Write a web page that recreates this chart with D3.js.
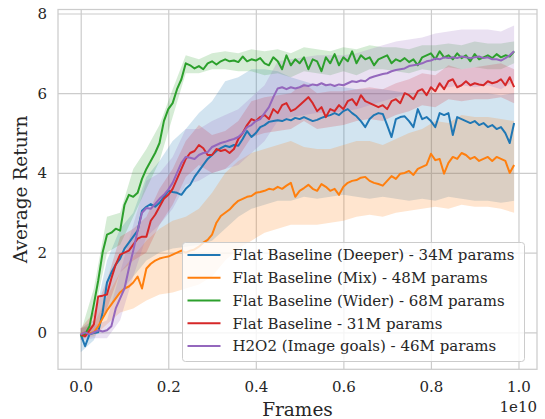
<!DOCTYPE html>
<html>
<head>
<meta charset="utf-8">
<script src="https://cdn.jsdelivr.net/npm/d3@7/dist/d3.min.js"></script>
<style>
    body { margin: 0; background: #fff; }
    text { font-family: "DejaVu Serif", serif; fill: #262626; }
</style>
</head>
<body>
<svg id="chart" width="545" height="419"></svg>
<script>
// Sampling grids (in units of 1e10 frames)
const LINE_STEP = 0.01;  // mean curves
const BAND_STEP = 0.03;  // shaded spread

// Series names / colours (legend order)
const seriesNames = [
    'Flat Baseline (Deeper) - 34M params',
    'Flat Baseline (Mix) - 48M params',
    'Flat Baseline (Wider) - 68M params',
    'Flat Baseline - 31M params',
    'H2O2 (Image goals) - 46M params'
];
const seriesColors = ['#1f77b4', '#ff7f0e', '#2ca02c', '#d62728', '#9467bd'];

// Mean return curves
const deeperMean = [-0.05, -0.35, -0.05, -0.02, 0.0, 0.5, 1.25, 1.5, 1.7, 1.85,
    2.1, 2.25, 2.4, 2.55, 3.05, 3.15, 3.22, 3.15, 3.25, 3.4,
    3.55, 3.52, 3.5, 3.45, 3.6, 3.7, 3.9, 4.05, 4.2, 4.35,
    4.45, 4.55, 4.62, 4.68, 4.65, 4.7, 4.68, 4.85, 5.05, 4.9,
    5.0, 5.15, 5.2, 5.28, 5.3, 5.32, 5.3, 5.35, 5.32, 5.38,
    5.35, 5.4, 5.35, 5.3, 5.33, 5.38, 5.42, 5.45, 5.5, 5.45,
    5.55, 5.6, 5.5, 5.42, 5.3, 5.15, 5.35, 5.45, 5.5, 5.48,
    5.2, 4.9, 5.35, 5.4, 5.42, 5.3, 5.15, 5.6, 5.35, 5.4,
    5.3, 5.15, 5.5, 5.45, 5.5, 4.95, 5.4, 5.35, 5.3, 5.25,
    5.3, 5.2, 5.25, 5.15, 5.2, 5.1, 5.15, 5.0, 4.75, 5.25];

const mixMean = [-0.05, 0.0, -0.02, 0.0, 0.15, 0.35, 0.55, 0.7, 0.85, 1.0,
    1.1, 1.15, 1.25, 1.4, 1.1, 1.6, 1.72, 1.8, 1.85, 1.88,
    1.9, 1.95, 2.0, 2.05, 2.0, 2.05, 2.08, 2.15, 2.25, 2.32,
    2.45, 2.75, 2.92, 3.0, 3.08, 3.2, 3.3, 3.35, 3.4, 3.42,
    3.5, 3.52, 3.55, 3.6, 3.58, 3.65, 3.6, 3.68, 3.75, 3.4,
    3.55, 3.62, 3.7, 3.6, 3.55, 3.72, 3.65, 3.55, 3.6, 3.45,
    3.65, 3.75, 3.8, 3.82, 3.88, 3.9, 3.8, 3.75, 3.72, 3.68,
    3.8, 3.92, 3.85, 3.98, 4.0, 4.05, 3.95, 4.1, 4.15, 4.2,
    4.48, 4.32, 4.35, 3.98, 4.25, 4.4, 4.35, 4.5, 4.45, 4.35,
    4.4, 4.3, 4.35, 4.4, 4.3, 4.4, 4.35, 4.3, 4.0, 4.2];

const widerMean = [-0.1, -0.05, 0.15, 0.7, 1.3, 2.0, 2.45, 2.5, 2.6, 2.55,
    3.2, 3.45, 3.4, 3.5, 3.85, 4.1, 4.3, 4.5, 4.75, 5.3,
    5.6, 5.75, 6.1, 6.35, 6.75, 6.7, 6.62, 6.68, 6.6, 6.75,
    6.8, 6.72, 6.8, 6.85, 6.8, 6.82, 6.78, 6.92, 6.8, 6.85,
    6.82, 6.88, 6.75, 6.7, 6.9, 6.8, 6.6, 6.95, 6.7, 6.85,
    6.75, 6.9, 6.6, 6.85, 6.8, 6.55, 6.9, 6.75, 6.98, 6.7,
    6.9, 6.8, 7.05, 6.75, 6.95, 6.85, 6.9, 6.7, 6.85, 6.9,
    6.95, 6.75, 6.85, 6.8, 6.88, 6.78, 6.85, 6.7, 6.9, 6.95,
    7.0, 6.85, 7.05, 6.9, 6.95, 6.85, 7.0, 6.88, 6.95, 6.8,
    6.98, 6.85, 6.9, 6.95, 6.88, 6.98, 6.9, 6.95, 6.92, 7.05];

const flatMean = [-0.05, -0.1, 0.05, 0.2, 0.9, 0.92, 0.95, 1.35, 1.7, 1.95,
    2.0, 2.05, 2.2, 2.35, 2.4, 2.4, 2.8, 2.95, 3.15, 3.35,
    3.45, 3.6, 3.85, 4.1, 4.35, 4.5, 4.55, 4.7, 4.62, 4.45,
    4.45, 4.6, 4.55, 4.58, 4.5, 4.6, 4.85, 5.0, 5.2, 5.35,
    5.3, 5.4, 5.45, 5.35, 5.6, 5.5, 5.7, 5.75, 5.55, 5.6,
    5.7, 5.8, 5.9, 5.75, 5.55, 5.65, 5.4, 5.6, 5.55, 5.7,
    5.6, 5.8, 5.85, 5.7, 5.95, 5.8, 5.75, 5.7, 5.65, 5.7,
    5.6, 5.8, 5.85, 5.75, 6.0, 5.95, 5.85, 6.05, 6.1, 5.95,
    6.15, 6.05, 6.25, 6.1, 6.3, 6.35, 6.15, 6.2, 6.3, 6.2,
    6.25, 6.22, 6.2, 6.3, 6.25, 6.28, 6.35, 6.2, 6.4, 6.15];

const h2o2Mean = [-0.05, 0.0, -0.05, 0.0, 0.05, 0.02, 0.05, 0.15, 0.6, 0.85,
    1.1, 1.6, 2.05, 2.55, 3.0, 3.12, 3.1, 3.22, 3.35, 3.45,
    3.58, 3.75, 4.0, 4.25, 4.4, 4.38, 4.35, 4.45, 4.5, 4.52,
    4.65, 4.7, 4.75, 4.78, 4.82, 4.85, 4.9, 5.0, 5.15, 5.2,
    5.3, 5.35, 5.5, 5.65, 5.9, 6.12, 6.15, 6.1, 6.15, 6.12,
    6.15, 6.2, 6.18, 6.22, 6.2, 6.25, 6.2, 6.22, 6.18, 6.22,
    6.2, 6.25, 6.3, 6.28, 6.32, 6.3, 6.38, 6.42, 6.45, 6.48,
    6.5, 6.55, 6.58, 6.6, 6.62, 6.68, 6.7, 6.72, 6.75, 6.8,
    6.82, 6.87, 6.85, 6.9, 6.88, 6.9, 6.88, 6.92, 6.9, 6.88,
    6.9, 6.92, 6.88, 6.9, 6.85, 6.85, 6.82, 6.88, 6.95, 7.05];

// Spread (lower / upper edge of shaded band), every BAND_STEP
const deeperLo = [-0.5, -0.2, 0.6, 1.0, 1.4, 1.8, 2.0, 2.1, 2.15, 2.2, 2.3, 2.6, 2.9, 3.1, 3.2, 3.3, 3.3,
    3.4, 3.35, 3.4, 3.45, 3.4, 3.35, 3.4, 3.35, 3.3, 3.35, 3.3, 3.4, 3.35, 3.3, 3.3, 3.25, 3.3];
const deeperHi = [0.1, 0.3, 1.8, 2.6, 3.0, 3.9, 4.3, 4.8, 5.1, 5.5, 5.8, 6.3, 6.4, 6.6, 6.6, 6.55, 6.4,
    6.3, 6.2, 6.2, 6.15, 6.1, 6.1, 6.1, 6.05, 6.0, 6.05, 6.0, 6.0, 6.0, 6.0, 6.0, 5.95, 6.0];

const mixLo = [-0.15, -0.1, 0.2, 0.5, 0.6, 0.8, 0.95, 1.0, 1.1, 1.2, 1.4, 1.8, 2.1, 2.3, 2.5, 2.6, 2.7,
    2.7, 2.7, 2.75, 2.8, 2.9, 2.95, 2.9, 3.0, 3.05, 3.1, 3.15, 3.1, 3.2, 3.15, 3.15, 3.1, 3.0];
const mixHi = [0.1, 0.2, 0.9, 1.5, 1.9, 2.3, 2.6, 2.8, 2.9, 3.1, 3.5, 4.0, 4.3, 4.5, 4.6, 4.7, 4.8,
    4.65, 4.6, 4.6, 4.7, 4.8, 4.8, 4.7, 4.85, 5.0, 5.1, 5.3, 5.25, 5.45, 5.4, 5.4, 5.35, 5.3];

const widerLo = [-0.2, 0.4, 2.0, 2.2, 2.9, 3.6, 4.3, 5.4, 6.5, 6.5, 6.6, 6.6, 6.55, 6.55, 6.45, 6.5, 6.4,
    6.55, 6.5, 6.45, 6.55, 6.45, 6.6, 6.6, 6.55, 6.5, 6.6, 6.55, 6.65, 6.6, 6.65, 6.6, 6.6, 6.75];
const widerHi = [0.0, 1.1, 2.9, 3.0, 4.1, 4.6, 5.2, 6.1, 6.95, 6.85, 7.0, 7.05, 7.0, 7.1, 7.05, 7.1, 7.0,
    7.15, 7.1, 7.05, 7.15, 7.1, 7.2, 7.15, 7.15, 7.1, 7.2, 7.2, 7.25, 7.2, 7.3, 7.25, 7.25, 7.3];

const flatLo = [-0.2, 0.0, 0.6, 1.5, 1.8, 2.0, 2.7, 3.2, 3.9, 4.2, 4.0, 4.1, 4.4, 4.9, 5.0, 5.05, 5.1,
    5.3, 5.1, 5.15, 5.2, 5.3, 5.35, 5.3, 5.45, 5.55, 5.7, 5.65, 5.85, 5.8, 5.85, 5.85, 5.9, 5.75];
const flatHi = [0.1, 0.5, 1.3, 2.4, 2.6, 2.9, 3.6, 4.1, 4.8, 5.2, 4.95, 5.05, 5.3, 5.8, 5.9, 5.95, 6.0,
    6.25, 6.0, 6.05, 6.05, 6.1, 6.15, 6.1, 6.25, 6.35, 6.5, 6.45, 6.7, 6.6, 6.65, 6.7, 6.75, 6.6];

const h2o2Lo = [-0.2, -0.15, -0.15, 0.3, 1.4, 2.4, 2.7, 3.1, 3.7, 3.8, 4.0, 4.1, 4.2, 4.5, 4.8, 5.3, 5.4,
    5.45, 5.5, 5.5, 5.55, 5.6, 5.7, 5.8, 5.9, 6.0, 6.05, 6.15, 6.15, 6.2, 6.15, 6.2, 6.1, 6.3];
const h2o2Hi = [0.1, 0.15, 0.3, 1.5, 2.7, 3.8, 4.0, 4.4, 5.1, 5.1, 5.3, 5.45, 5.6, 5.9, 6.2, 6.8, 6.85,
    6.9, 6.95, 6.95, 6.95, 7.0, 7.1, 7.2, 7.3, 7.35, 7.4, 7.5, 7.55, 7.6, 7.6, 7.6, 7.55, 7.7];

// Axis ticks
const xTicks = [0.0, 0.2, 0.4, 0.6, 0.8, 1.0];
const yTicks = [0, 2, 4, 6, 8];

const means = [deeperMean, mixMean, widerMean, flatMean, h2o2Mean];
const lows = [deeperLo, mixLo, widerLo, flatLo, h2o2Lo];
const highs = [deeperHi, mixHi, widerHi, flatHi, h2o2Hi];

const svg = d3.select('#chart');
const plot = { left: 58, right: 537, top: 9.5, bottom: 369.3 };

const xScale = d3.scaleLinear()
    .domain([-0.0519, 1.0423])
    .range([plot.left, plot.right]);

const yScale = d3.scaleLinear()
    .domain([-0.928, 8.1])
    .range([plot.bottom, plot.top]);

// Grid
svg.append('g')
    .attr('transform', `translate(0,${plot.bottom})`)
    .call(d3.axisBottom(xScale).tickValues(xTicks).tickSize(-(plot.bottom - plot.top)).tickFormat(''))
    .call(g => g.select('.domain').remove())
    .call(g => g.selectAll('line').attr('stroke', '#cccccc').attr('stroke-width', 1.2));

svg.append('g')
    .attr('transform', `translate(${plot.left},0)`)
    .call(d3.axisLeft(yScale).tickValues(yTicks).tickSize(-(plot.right - plot.left)).tickFormat(''))
    .call(g => g.select('.domain').remove())
    .call(g => g.selectAll('line').attr('stroke', '#cccccc').attr('stroke-width', 1.2));

// Bands + lines
const area = d3.area()
    .x((d, i) => xScale(i * BAND_STEP))
    .y0(d => yScale(d[0]))
    .y1(d => yScale(d[1]));

const line = d3.line()
    .x((d, i) => xScale(i * LINE_STEP))
    .y(d => yScale(d));

means.forEach((m, k) => {
    svg.append('path')
        .datum(lows[k].map((lo, i) => [lo, highs[k][i]]))
        .attr('fill', seriesColors[k])
        .attr('fill-opacity', 0.2)
        .attr('d', area);
});

means.forEach((m, k) => {
    svg.append('path')
        .datum(m)
        .attr('fill', 'none')
        .attr('stroke', seriesColors[k])
        .attr('stroke-width', 2)
        .attr('stroke-linejoin', 'round')
        .attr('d', line);
});

// Frame
svg.append('rect')
    .attr('x', plot.left).attr('y', plot.top)
    .attr('width', plot.right - plot.left).attr('height', plot.bottom - plot.top)
    .attr('fill', 'none').attr('stroke', '#cccccc').attr('stroke-width', 1.25);

// Tick labels
svg.append('g')
    .attr('transform', `translate(0,${plot.bottom})`)
    .call(d3.axisBottom(xScale).tickValues(xTicks).tickSize(0).tickPadding(12).tickFormat(d3.format('.1f')))
    .call(g => g.select('.domain').remove())
    .call(g => g.selectAll('text').attr('font-size', 15).attr('font-family', 'DejaVu Serif').attr('fill', '#262626'));

svg.append('g')
    .attr('transform', `translate(${plot.left},0)`)
    .call(d3.axisLeft(yScale).tickValues(yTicks).tickSize(0).tickPadding(11).tickFormat(d3.format('d')))
    .call(g => g.select('.domain').remove())
    .call(g => g.selectAll('text').attr('font-size', 15).attr('font-family', 'DejaVu Serif').attr('fill', '#262626'));

svg.append('text')
    .attr('x', plot.right).attr('y', 411.5)
    .attr('text-anchor', 'end').attr('font-size', 15)
    .text('1e10');

// Axis labels
svg.append('text')
    .attr('x', (plot.left + plot.right) / 2).attr('y', 416)
    .attr('text-anchor', 'middle').attr('font-size', 18.5)
    .text('Frames');

svg.append('text')
    .attr('transform', `translate(27,${(plot.top + plot.bottom) / 2}) rotate(-90)`)
    .attr('text-anchor', 'middle').attr('font-size', 18.5)
    .text('Average Return');

// Legend
const legend = svg.append('g');
legend.append('rect')
    .attr('x', 182.5).attr('y', 242.5)
    .attr('width', 342).attr('height', 119)
    .attr('rx', 3)
    .attr('fill', '#ffffff').attr('fill-opacity', 0.8)
    .attr('stroke', '#cccccc').attr('stroke-width', 1);

seriesNames.forEach((name, k) => {
    const cy = 255 + k * 22.75;
    legend.append('line')
        .attr('x1', 187.5).attr('x2', 220.5)
        .attr('y1', cy).attr('y2', cy)
        .attr('stroke', seriesColors[k]).attr('stroke-width', 2);
    legend.append('text')
        .attr('x', 232.5).attr('y', cy)
        .attr('dy', '0.35em')
        .attr('font-size', 15)
        .text(name);
});
</script>
</body>
</html>
